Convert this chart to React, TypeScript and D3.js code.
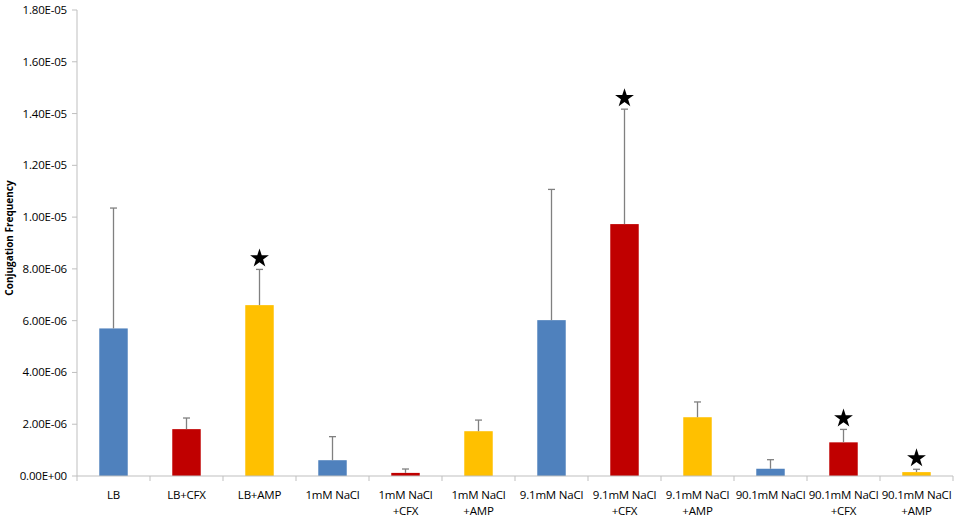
import { useEffect, useRef } from "react";
import * as d3 from "d3";

const categories = [
  "LB",
  "LB+CFX",
  "LB+AMP",
  "1mM NaCl",
  "1mM NaCl\n+CFX",
  "1mM NaCl\n+AMP",
  "9.1mM NaCl",
  "9.1mM NaCl\n+CFX",
  "9.1mM NaCl\n+AMP",
  "90.1mM NaCl",
  "90.1mM NaCl\n+CFX",
  "90.1mM NaCl\n+AMP",
];
const values = [5.7e-6, 1.81e-6, 6.6e-6, 0.61e-6, 0.12e-6, 1.73e-6, 6.02e-6, 9.73e-6, 2.27e-6, 0.28e-6, 1.3e-6, 0.15e-6];
const errTops = [10.35e-6, 2.24e-6, 7.98e-6, 1.52e-6, 0.27e-6, 2.16e-6, 11.07e-6, 14.17e-6, 2.86e-6, 0.63e-6, 1.8e-6, 0.26e-6];
const treatments = ["none", "CFX", "AMP", "none", "CFX", "AMP", "none", "CFX", "AMP", "none", "CFX", "AMP"];
const significant = [false, false, true, false, false, false, false, true, false, false, true, true];
const yTicks = [0, 2e-6, 4e-6, 6e-6, 8e-6, 1e-5, 1.2e-5, 1.4e-5, 1.6e-5, 1.8e-5];

const colors: Record<string, string> = { none: "#4F81BD", CFX: "#C00000", AMP: "#FFC000" };

const W = 957;
const H = 519;

function fmt(v: number) {
  if (v === 0) return "0.00E+00";
  const e = Math.floor(Math.log10(v) + 1e-9);
  const m = v / Math.pow(10, e);
  const sign = e < 0 ? "-" : "+";
  return `${m.toFixed(2)}E${sign}${String(Math.abs(e)).padStart(2, "0")}`;
}

export default function App() {
  const ref = useRef<SVGSVGElement | null>(null);

  useEffect(() => {
    const svg = d3.select(ref.current!);
    svg.selectAll("*").remove();

    const left = 77;
    const right = 953;
    const top = 10;
    const bottom = 476;
    const font = "Open Sans, Noto Sans, sans-serif";

    const x = d3.scaleBand<number>().domain(d3.range(categories.length)).range([left, right]).paddingInner(0.61).paddingOuter(0.305);
    const y = d3.scaleLinear().domain([0, 1.8e-5]).range([bottom, top]);
    const step = (right - left) / categories.length;

    svg.append("rect").attr("width", W).attr("height", H).attr("fill", "#fff");

    // y axis
    svg.append("line").attr("x1", left).attr("x2", left).attr("y1", top).attr("y2", bottom).attr("stroke", "#bfbfbf");
    svg
      .selectAll("line.yt")
      .data(yTicks)
      .join("line")
      .attr("class", "yt")
      .attr("x1", left - 5)
      .attr("x2", left)
      .attr("y1", (d) => y(d))
      .attr("y2", (d) => y(d))
      .attr("stroke", "#bfbfbf");
    svg
      .selectAll("text.yl")
      .data(yTicks)
      .join("text")
      .attr("class", "yl")
      .attr("x", left - 10)
      .attr("y", (d) => y(d))
      .attr("dy", "0.35em")
      .attr("text-anchor", "end")
      .style("font", `11.5px ${font}`)
      .style("letter-spacing", "-0.2px")
      .style("fill", "#000")
      .text((d) => fmt(d));

    svg
      .append("text")
      .attr("transform", `translate(13,238) rotate(-90)`)
      .attr("text-anchor", "middle")
      .style("font", `bold 10px ${font}`)
      .text("Conjugation Frequency");

    // bars
    svg
      .selectAll("rect.bar")
      .data(values)
      .join("rect")
      .attr("class", "bar")
      .attr("x", (_, i) => x(i)!)
      .attr("width", x.bandwidth())
      .attr("y", (d) => y(d))
      .attr("height", (d) => bottom - y(d))
      .attr("fill", (_, i) => colors[treatments[i]]);

    // error bars
    const eb = svg.selectAll("g.err").data(errTops).join("g").attr("class", "err");
    eb.append("line")
      .attr("x1", (_, i) => x(i)! + x.bandwidth() / 2)
      .attr("x2", (_, i) => x(i)! + x.bandwidth() / 2)
      .attr("y1", (_, i) => y(values[i]))
      .attr("y2", (d) => y(d))
      .attr("stroke", "#808080")
      .attr("stroke-width", 1.3);
    eb.append("line")
      .attr("x1", (_, i) => x(i)! + x.bandwidth() / 2 - 3.5)
      .attr("x2", (_, i) => x(i)! + x.bandwidth() / 2 + 3.5)
      .attr("y1", (d) => y(d))
      .attr("y2", (d) => y(d))
      .attr("stroke", "#808080")
      .attr("stroke-width", 1.3);

    // x axis
    svg.append("line").attr("x1", left).attr("x2", right).attr("y1", bottom).attr("y2", bottom).attr("stroke", "#bfbfbf");
    svg
      .selectAll("line.xt")
      .data(d3.range(categories.length + 1))
      .join("line")
      .attr("class", "xt")
      .attr("x1", (i) => left + i * step)
      .attr("x2", (i) => left + i * step)
      .attr("y1", bottom)
      .attr("y2", bottom + 5)
      .attr("stroke", "#bfbfbf");

    const xl = svg
      .selectAll("text.xl")
      .data(categories)
      .join("text")
      .attr("class", "xl")
      .attr("text-anchor", "middle")
      .style("font", `11.5px ${font}`)
      .style("letter-spacing", "-0.2px")
      .style("fill", "#000");
    xl.each(function (d, i) {
      const t = d3.select(this);
      d.split("\n").forEach((line, k) => {
        t.append("tspan")
          .attr("x", x(i)! + x.bandwidth() / 2)
          .attr("y", 499 + k * 16)
          .text(line);
      });
    });

    // significance stars
    const star = d3.symbol().type(d3.symbolStar).size(110);
    svg
      .selectAll("path.star")
      .data(errTops.map((v, i) => ({ v, i })).filter((d) => significant[d.i]))
      .join("path")
      .attr("class", "star")
      .attr("d", star)
      .attr("transform", (d) => `translate(${x(d.i)! + x.bandwidth() / 2},${y(d.v) - 11})`)
      .attr("fill", "#000");
  }, []);

  return (
    <div style={{ position: "absolute", left: 0, top: 0 }}>
      <svg ref={ref} width={W} height={H} style={{ display: "block" }} />
    </div>
  );
}
